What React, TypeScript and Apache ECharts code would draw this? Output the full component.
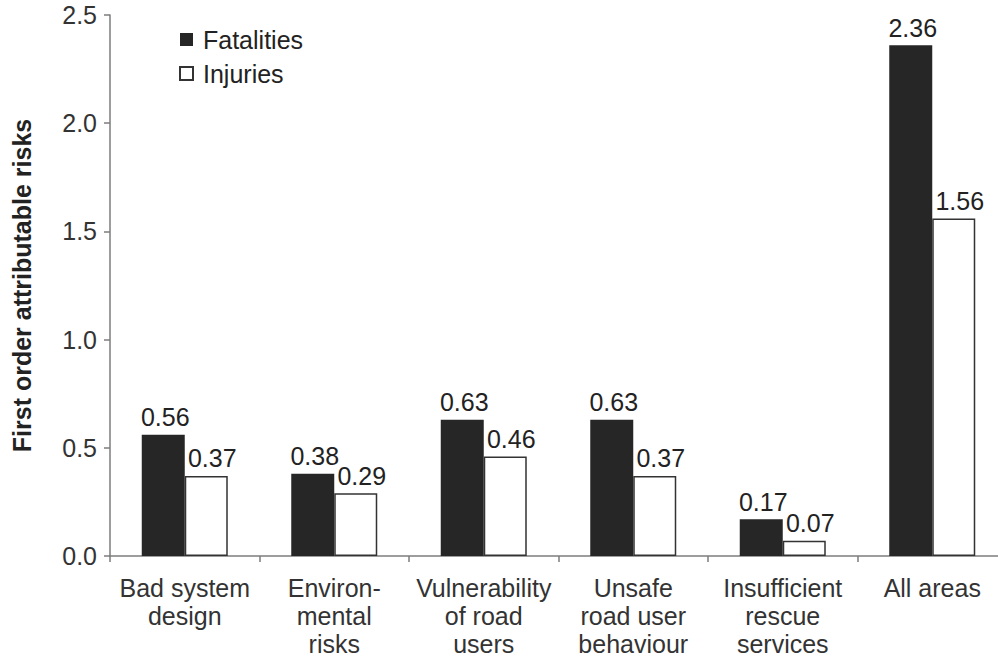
import React, { useEffect, useRef } from "react";
import * as echarts from "echarts";

const categories = [
  "Bad system\ndesign",
  "Environ-\nmental\nrisks",
  "Vulnerability\nof road\nusers",
  "Unsafe\nroad user\nbehaviour",
  "Insufficient\nrescue\nservices",
  "All areas",
];
const fatalities = [0.56, 0.38, 0.63, 0.63, 0.17, 2.36];
const injuries = [0.37, 0.29, 0.46, 0.37, 0.07, 1.56];
const yTicks = { min: 0, max: 2.5, interval: 0.5 };

const FONT = "'Liberation Sans', Arial, Helvetica, sans-serif";

export default function App() {
  const ref = useRef<HTMLDivElement>(null);
  useEffect(() => {
    if (!ref.current) return;
    const chart = echarts.init(ref.current, null, { renderer: "svg" });
    const axisColor = "#7d7d7d";
    chart.setOption({
      animation: false,
      backgroundColor: "#ffffff",
      textStyle: { fontFamily: FONT },
      legend: {
        orient: "vertical",
        left: 179,
        top: 27,
        padding: 0,
        itemWidth: 13,
        itemHeight: 13,
        itemGap: 9,
        icon: "rect",
        textStyle: {
          fontFamily: FONT,
          fontSize: 25,
          color: "#222",
          lineHeight: 25,
          padding: [0, 0, 0, 5],
        },
        data: ["Fatalities", "Injuries"],
      },
      grid: { left: 110, top: 15, width: 897, height: 542.5, containLabel: false },
      xAxis: {
        type: "category",
        data: categories,
        axisLine: { lineStyle: { color: axisColor, width: 1.5 } },
        axisTick: { show: true, length: 6, alignWithLabel: false, lineStyle: { color: axisColor, width: 1.5 } },
        axisLabel: {
          interval: 0,
          margin: 18,
          fontSize: 25,
          lineHeight: 28,
          color: "#333",
          fontFamily: FONT,
        },
      },
      yAxis: {
        type: "value",
        min: yTicks.min,
        max: yTicks.max,
        interval: yTicks.interval,
        name: "First order attributable risks",
        nameLocation: "middle",
        nameGap: 76,
        nameTextStyle: { fontSize: 25, fontWeight: "bold", color: "#222", fontFamily: FONT },
        splitLine: { show: false },
        axisLine: { show: true, lineStyle: { color: axisColor, width: 1.5 } },
        axisTick: { show: true, length: 6, lineStyle: { color: axisColor, width: 1.5 } },
        axisLabel: {
          margin: 13,
          fontSize: 25,
          color: "#333",
          fontFamily: FONT,
          formatter: (v: number) => v.toFixed(1),
        },
      },
      series: [
        {
          name: "Fatalities",
          type: "bar",
          data: fatalities,
          barWidth: 43,
          barGap: "0%",
          itemStyle: { color: "#262626", borderColor: "#262626", borderWidth: 0 },
          label: {
            show: true,
            position: "top",
            distance: 5,
            offset: [2, 0],
            fontSize: 25,
            color: "#222",
            fontFamily: FONT,
            formatter: (p: any) => p.value.toFixed(2),
          },
        },
        {
          name: "Injuries",
          type: "bar",
          data: injuries,
          barWidth: 43,
          barGap: "0%",
          itemStyle: { color: "#ffffff", borderColor: "#333333", borderWidth: 1.5 },
          label: {
            show: true,
            position: "top",
            distance: 5,
            offset: [6, 0],
            fontSize: 25,
            color: "#222",
            fontFamily: FONT,
            formatter: (p: any) => p.value.toFixed(2),
          },
        },
      ],
    });
    return () => chart.dispose();
  }, []);
  return (
    <div
      style={{
        position: "fixed",
        left: 0,
        top: 0,
        width: 998,
        height: 658,
        overflow: "hidden",
        background: "#fff",
      }}
    >
      <div ref={ref} style={{ width: 1012, height: 658 }} />
    </div>
  );
}
